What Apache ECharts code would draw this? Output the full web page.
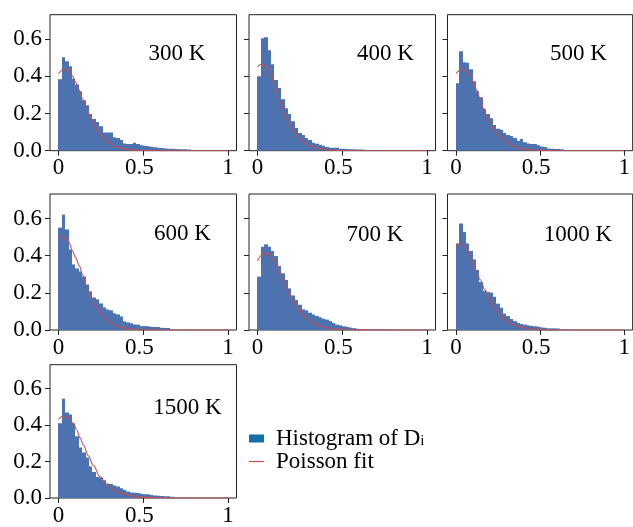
<!DOCTYPE html>
<html><head><meta charset="utf-8">
<script src="https://cdn.jsdelivr.net/npm/echarts@6/dist/echarts.min.js"></script>
<style>html,body{margin:0;padding:0;background:#fff}#c{width:633px;height:527px}</style>
</head><body><div id="c"></div>
<script>
// ---------- data ----------
const panelLabels = ['300 K', '400 K', '500 K', '600 K', '700 K', '1000 K', '1500 K'];
const binWidth = 0.02; // histogram bins from 0 to 1
const xTicks = [0, 0.5, 1];
const yTicks = [0, 0.2, 0.4, 0.6];

const h300 = [0.385,0.503,0.482,0.455,0.387,0.356,0.320,0.272,0.245,0.197,
  0.170,0.154,0.132,0.098,0.098,0.098,0.073,0.068,0.057,0.039,
  0.036,0.036,0.043,0.036,0.030,0.027,0.024,0.021,0.018,0.016,
  0.014,0.012,0.011,0.010,0.009,0.008,0.008,0.008,0.007,0.002,
  0.001,0.001,0.001,0.001,0.001,0.001,0.000,0.001,0.000,0.000];
const h400 = [0.401,0.605,0.610,0.541,0.465,0.380,0.337,0.277,0.229,0.197,
  0.159,0.122,0.095,0.084,0.068,0.057,0.043,0.038,0.032,0.027,
  0.020,0.016,0.016,0.016,0.011,0.011,0.009,0.008,0.008,0.007,
  0.006,0.005,0.003,0.002,0.002,0.002,0.001,0.001,0.001,0.001,
  0.001,0.001,0.001,0.000,0.000,0.000,0.000,0.000,0.000,0.000];
const h500 = [0.363,0.535,0.476,0.473,0.439,0.374,0.320,0.288,0.224,0.197,
  0.175,0.138,0.118,0.113,0.095,0.084,0.079,0.068,0.054,0.063,
  0.045,0.039,0.036,0.036,0.030,0.022,0.020,0.012,0.010,0.009,
  0.009,0.008,0.004,0.003,0.002,0.002,0.001,0.001,0.001,0.001,
  0.001,0.000,0.000,0.000,0.000,0.000,0.000,0.000,0.000,0.000];
const h600 = [0.551,0.621,0.541,0.433,0.353,0.331,0.315,0.288,0.245,0.208,
  0.175,0.165,0.143,0.122,0.111,0.106,0.090,0.084,0.073,0.047,
  0.041,0.036,0.030,0.029,0.021,0.021,0.020,0.017,0.016,0.016,
  0.012,0.011,0.011,0.002,0.001,0.001,0.001,0.000,0.000,0.000,
  0.000,0.000,0.000,0.000,0.000,0.000,0.000,0.000,0.000,0.000];
const h700 = [0.287,0.448,0.461,0.448,0.425,0.398,0.344,0.305,0.269,0.224,
  0.186,0.161,0.136,0.111,0.106,0.093,0.084,0.075,0.068,0.061,
  0.056,0.048,0.038,0.029,0.025,0.020,0.017,0.013,0.010,0.007,
  0.005,0.004,0.003,0.003,0.004,0.004,0.002,0.003,0.001,0.001,
  0.000,0.000,0.000,0.000,0.000,0.000,0.000,0.000,0.000,0.000];
const h1000 = [0.466,0.573,0.527,0.466,0.425,0.380,0.323,0.258,0.210,0.204,
  0.201,0.179,0.142,0.120,0.088,0.075,0.059,0.048,0.038,0.032,
  0.029,0.025,0.022,0.020,0.018,0.014,0.012,0.009,0.009,0.009,
  0.008,0.003,0.001,0.001,0.001,0.000,0.000,0.000,0.000,0.000,
  0.000,0.000,0.000,0.000,0.000,0.000,0.000,0.000,0.000,0.000];
const h1500 = [0.411,0.545,0.470,0.459,0.411,0.339,0.277,0.250,0.223,0.173,
  0.143,0.116,0.113,0.098,0.080,0.077,0.068,0.063,0.054,0.045,
  0.036,0.030,0.029,0.027,0.023,0.021,0.020,0.016,0.014,0.013,
  0.011,0.009,0.009,0.007,0.002,0.001,0.001,0.000,0.000,0.000,
  0.000,0.000,0.000,0.000,0.000,0.000,0.000,0.000,0.000,0.000];

const fitX300 = [0,0.035,0.061,0.082,0.1,0.12,0.141,0.165,0.182,0.2,0.224,0.259,0.296,0.335,0.375,0.433,0.49,0.6,0.8,1.0];
const fitY300 = [0.415,0.44,0.431,0.403,0.371,0.329,0.281,0.231,0.192,0.158,0.12,0.073,0.043,0.023,0.011,0.004,0.001,0,0,0];
const fitX400 = [0,0.024,0.045,0.065,0.082,0.1,0.124,0.141,0.159,0.182,0.212,0.241,0.271,0.31,0.359,0.418,0.486,0.6,0.8,1.0];
const fitY400 = [0.451,0.467,0.458,0.433,0.396,0.353,0.29,0.245,0.2,0.156,0.106,0.07,0.045,0.025,0.011,0.004,0.001,0,0,0];
const fitX500 = [0,0.035,0.061,0.082,0.106,0.124,0.141,0.165,0.182,0.2,0.224,0.259,0.296,0.335,0.375,0.433,0.492,0.6,0.8,1.0];
const fitY500 = [0.414,0.44,0.431,0.406,0.362,0.326,0.286,0.227,0.188,0.156,0.118,0.077,0.047,0.027,0.014,0.005,0.002,0,0,0];
const fitX600 = [0,0.018,0.035,0.061,0.082,0.1,0.124,0.141,0.165,0.182,0.2,0.224,0.259,0.296,0.335,0.375,0.433,0.492,0.6,0.8,1.0];
const fitY600 = [0.492,0.503,0.499,0.474,0.428,0.392,0.344,0.299,0.24,0.197,0.163,0.122,0.075,0.043,0.023,0.013,0.004,0.001,0,0,0];
const fitX700 = [0,0.025,0.049,0.069,0.098,0.127,0.157,0.186,0.216,0.245,0.284,0.324,0.373,0.422,0.48,0.54,0.7,1.0];
const fitY700 = [0.371,0.402,0.416,0.407,0.371,0.317,0.258,0.2,0.147,0.108,0.066,0.039,0.02,0.009,0.004,0.001,0,0];
const fitX1000 = [0,0.025,0.045,0.065,0.084,0.104,0.124,0.143,0.173,0.202,0.241,0.28,0.32,0.378,0.437,0.496,0.6,0.8,1.0];
const fitY1000 = [0.448,0.464,0.455,0.43,0.398,0.358,0.314,0.272,0.215,0.161,0.102,0.061,0.036,0.018,0.007,0.003,0,0,0];
const fitX1500 = [0,0.029,0.049,0.069,0.088,0.108,0.127,0.147,0.176,0.206,0.245,0.284,0.324,0.363,0.422,0.48,0.559,0.7,1.0];
const fitY1500 = [0.432,0.45,0.446,0.432,0.407,0.375,0.33,0.291,0.232,0.179,0.116,0.071,0.045,0.027,0.013,0.005,0.002,0,0];

const histograms = [h300, h400, h500, h600, h700, h1000, h1500];
const fitsX = [fitX300, fitX400, fitX500, fitX600, fitX700, fitX1000, fitX1500];
const fitsY = [fitY300, fitY400, fitY500, fitY600, fitY700, fitY1000, fitY1500];

// ---------- layout / style ----------
const FONT = 'Liberation Serif';
const FS = 23;
const colLeft = [50, 249, 447.5];
const rowTop = [14.7, 194, 364.7];
const gridW = 186.5, gridH = 136;
const labelPos = [[177, 54], [385.5, 54], [578.5, 54], [182.5, 233.5], [375, 235], [578, 235], [187.5, 408]];
const barColor = '#4c72b0', legendBarColor = '#1170aa', fitColor = '#c44e52', axisColor = '#222';

const grids = [], xAxes = [], yAxes = [], series = [], graphics = [];
for (let p = 0; p < 7; p++) {
  const r = Math.floor(p / 3), c = p % 3;
  grids.push({left: colLeft[c], top: rowTop[r], width: gridW, height: gridH,
    show: true, borderColor: axisColor, borderWidth: 1, backgroundColor: 'transparent'});
  xAxes.push({type: 'value', gridIndex: p, min: -0.05, max: 1.05, position: 'bottom',
    splitLine: {show: false}, axisLine: {show: false, onZero: false},
    axisTick: {show: true, inside: false, length: 5, lineStyle: {color: axisColor, width: 1}, customValues: xTicks},
    axisLabel: {show: true, customValues: xTicks, margin: 6, fontFamily: FONT, fontSize: FS, color: '#000',
      formatter: v => v === 0.5 ? '{h|0.5}' : String(v),
      rich: {h: {fontFamily: FONT, fontSize: FS, color: '#000', padding: [0, 8, 0, 0]}}}});
  yAxes.push({type: 'value', gridIndex: p, min: 0, max: 0.732, position: 'left',
    splitLine: {show: false}, axisLine: {show: false, onZero: false},
    axisTick: {show: true, inside: false, length: 5, lineStyle: {color: axisColor, width: 1}, customValues: yTicks},
    axisLabel: {show: c === 0, customValues: yTicks, margin: 8, fontFamily: FONT, fontSize: FS, color: '#000',
      formatter: v => v.toFixed(1)}});
  const hist = histograms[p].map((v, i) => [i * binWidth, (i + 1) * binWidth, v]);
  series.push({type: 'custom', name: 'Histogram of D_i', xAxisIndex: p, yAxisIndex: p,
    itemStyle: {color: barColor}, data: hist, clip: true,
    renderItem: (params, api) => {
      const a = api.coord([api.value(0), api.value(2)]);
      const b = api.coord([api.value(1), 0]);
      const x0 = Math.round(a[0]), x1 = Math.round(b[0]);
      if (b[1] - a[1] < 0.2) return null;
      return {type: 'rect', shape: {x: x0, y: a[1], width: x1 - x0, height: b[1] - a[1]},
        style: {fill: barColor}};
    }});
  series.push({type: 'line', name: 'Poisson fit', xAxisIndex: p, yAxisIndex: p,
    data: fitsX[p].map((x, i) => [x, fitsY[p][i]]), showSymbol: false, symbol: 'none',
    smooth: 0.35, smoothMonotone: 'x', lineStyle: {color: fitColor, width: 1.1}, itemStyle: {color: fitColor}, z: 5});
  graphics.push({type: 'text', x: labelPos[p][0], y: labelPos[p][1],
    style: {text: panelLabels[p], font: FS + 'px "' + FONT + '"', fill: '#000', align: 'center', verticalAlign: 'middle'}});
}

const option = {
  animation: false,
  backgroundColor: '#fff',
  grid: grids, xAxis: xAxes, yAxis: yAxes, series: series,
  graphic: graphics,
  legend: {
    orient: 'vertical', left: 249, top: 427, padding: 0, itemGap: 0, itemWidth: 15, itemHeight: 8,
    data: [
      {name: 'Histogram of D_i', icon: 'rect', itemStyle: {color: legendBarColor}},
      {name: 'Poisson fit', icon: 'path://M0,0H30V2.4H0Z', itemStyle: {color: fitColor}}
    ],
    formatter: n => n === 'Histogram of D_i' ? 'Histogram of D{sub|i}' : 'Poisson fit',
    textStyle: {fontFamily: FONT, fontSize: FS, color: '#000', lineHeight: 21, padding: [0, 0, 0, 7],
      rich: {sub: {fontFamily: FONT, fontSize: 15, lineHeight: 10, verticalAlign: 'bottom'}}}
  }
};
const chart = echarts.init(document.getElementById('c'), null, {renderer: 'canvas'});
chart.setOption(option);
</script></body></html>
